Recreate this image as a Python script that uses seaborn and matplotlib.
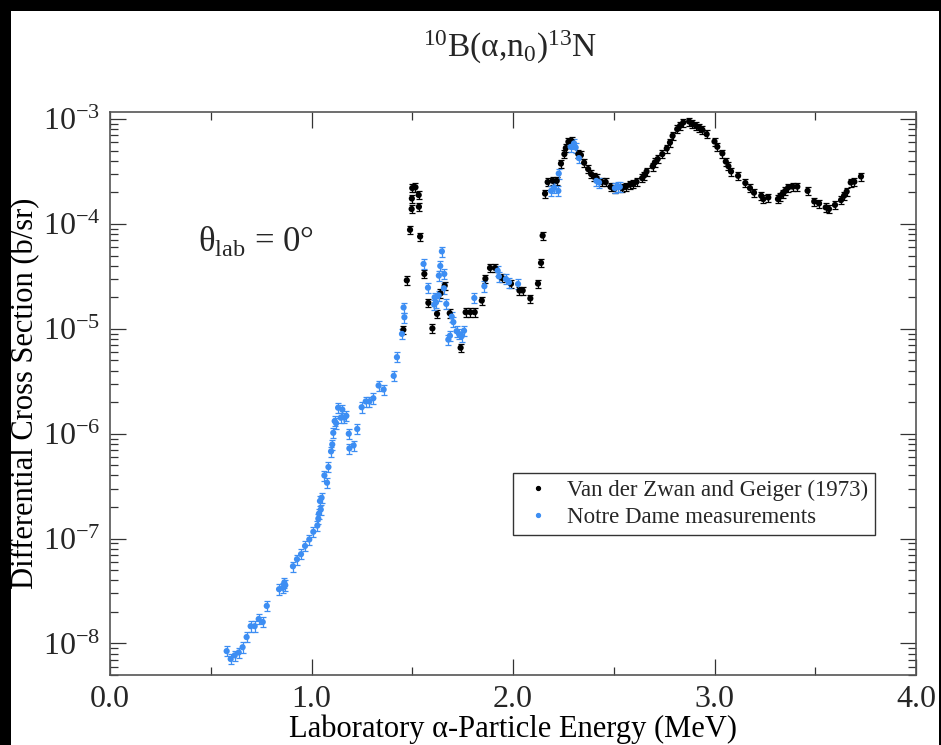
import numpy as np
import pandas as pd
import seaborn as sns
import matplotlib
matplotlib.use("Agg")
import matplotlib.pyplot as plt
from matplotlib.patches import Rectangle
from matplotlib.lines import Line2D
from matplotlib.ticker import LogLocator, MultipleLocator, FormatStrFormatter, NullFormatter, FixedLocator

# ---------------- data ----------------
vdz_energy = [1.456, 1.473, 1.489, 1.497, 1.498, 1.500, 1.516, 1.532, 1.533, 1.539,
              1.560, 1.580, 1.600, 1.623, 1.640, 1.661, 1.686, 1.740, 1.765, 1.788,
              1.810, 1.845, 1.863, 1.886, 1.911, 1.945, 1.990, 2.032, 2.048, 2.086,
              2.124, 2.139, 2.147, 2.159, 2.172, 2.197, 2.217, 2.238, 2.255, 2.262,
              2.275, 2.291, 2.324, 2.337, 2.353, 2.373, 2.388, 2.403, 2.415, 2.440,
              2.460, 2.484, 2.504, 2.542, 2.560, 2.580, 2.597, 2.613, 2.641, 2.651,
              2.663, 2.693, 2.704, 2.718, 2.741, 2.763, 2.779, 2.792, 2.815, 2.829,
              2.845, 2.874, 2.890, 2.908, 2.925, 2.940, 2.961, 3.000, 3.014, 3.039,
              3.056, 3.069, 3.082, 3.117, 3.153, 3.176, 3.196, 3.232, 3.242, 3.267,
              3.315, 3.325, 3.338, 3.351, 3.366, 3.388, 3.411, 3.462, 3.495, 3.519,
              3.552, 3.568, 3.598, 3.628, 3.643, 3.656, 3.676, 3.694, 3.727]
vdz_sigma = [9.8e-6, 2.9e-5, 8.8e-5, 1.39e-4, 1.75e-4, 2.2e-4, 2.24e-4, 1.89e-4, 1.46e-4, 7.6e-5,
             3.34e-5, 1.77e-5, 1.01e-5, 1.39e-5, 2.18e-5, 2.58e-5, 1.41e-5, 6.6e-6, 1.44e-5, 1.44e-5,
             1.44e-5, 1.86e-5, 3.01e-5, 3.81e-5, 3.81e-5, 3.06e-5, 2.69e-5, 2.32e-5, 2.32e-5, 1.95e-5,
             2.7e-5, 4.26e-5, 7.75e-5, 1.95e-4, 2.51e-4, 2.58e-4, 2.58e-4, 3.77e-4, 4.64e-4, 5.3e-4,
             6.08e-4, 6.17e-4, 4.64e-4, 4.54e-4, 3.84e-4, 3.34e-4, 2.99e-4, 2.82e-4, 2.74e-4, 2.51e-4,
             2.51e-4, 2.26e-4, 2.17e-4, 2.2e-4, 2.26e-4, 2.37e-4, 2.4e-4, 2.53e-4, 2.74e-4, 2.9e-4,
             3.17e-4, 3.54e-4, 3.87e-4, 4.16e-4, 4.64e-4, 5.25e-4, 5.98e-4, 6.93e-4, 8.03e-4, 8.64e-4,
             9.29e-4, 9.49e-4, 9.08e-4, 8.63e-4, 8.32e-4, 7.91e-4, 7.19e-4, 6.12e-4, 5.45e-4, 4.71e-4,
             3.94e-4, 3.56e-4, 3.17e-4, 2.88e-4, 2.46e-4, 2.2e-4, 1.99e-4, 1.86e-4, 1.73e-4, 1.79e-4,
             1.73e-4, 1.83e-4, 1.95e-4, 2.07e-4, 2.23e-4, 2.27e-4, 2.27e-4, 2.07e-4, 1.64e-4, 1.57e-4,
             1.44e-4, 1.39e-4, 1.52e-4, 1.69e-4, 1.86e-4, 2.04e-4, 2.49e-4, 2.53e-4, 2.84e-4]
vdz_rel_err = 0.09

nd_energy = [0.579, 0.599, 0.619, 0.639, 0.658, 0.678, 0.698, 0.718, 0.738, 0.758,
             0.778, 0.839, 0.857, 0.865, 0.870, 0.908, 0.928, 0.948, 0.968, 0.989,
             1.009, 1.029, 1.034, 1.037, 1.042, 1.046, 1.050, 1.064, 1.077, 1.084,
             1.097, 1.103, 1.108, 1.115, 1.122, 1.132, 1.145, 1.153, 1.163, 1.173,
             1.185, 1.188, 1.209, 1.227, 1.249, 1.269, 1.287, 1.307, 1.333, 1.358,
             1.408, 1.424, 1.449, 1.457, 1.461, 1.556, 1.578, 1.609, 1.611, 1.618,
             1.631, 1.632, 1.639, 1.647, 1.657, 1.659, 1.669, 1.679, 1.687, 1.696,
             1.704, 1.720, 1.732, 1.745, 1.757, 1.808, 1.858, 1.924, 1.930, 1.965,
             1.980, 2.025, 2.189, 2.204, 2.225, 2.227, 2.286, 2.303, 2.311, 2.327,
             2.414, 2.427, 2.506, 2.519, 2.530]
nd_sigma = [8.45e-9, 7.1e-9, 7.7e-9, 8.2e-9, 9.2e-9, 1.15e-8, 1.46e-8, 1.46e-8, 1.71e-8, 1.6e-8,
            2.28e-8, 3.29e-8, 3.39e-8, 3.81e-8, 3.59e-8, 5.44e-8, 6.35e-8, 7.1e-8, 8.5e-8, 9.8e-8,
            1.16e-7, 1.33e-7, 1.55e-7, 1.73e-7, 2.28e-7, 1.89e-7, 2.45e-7, 4.0e-7, 3.41e-7, 4.81e-7,
            6.78e-7, 7.9e-7, 1.02e-6, 1.32e-6, 1.26e-6, 1.77e-6, 1.42e-6, 1.70e-6, 1.42e-6, 1.48e-6,
            1.0e-6, 7.24e-7, 7.74e-7, 1.11e-6, 1.79e-6, 2.03e-6, 2.03e-6, 2.18e-6, 2.88e-6, 2.64e-6,
            3.56e-6, 5.37e-6, 8.95e-6, 1.6e-5, 1.29e-5, 4.16e-5, 2.47e-5, 1.70e-5, 2.0e-5, 1.79e-5,
            2.09e-5, 3.22e-5, 3.98e-5, 5.48e-5, 2.44e-5, 3.34e-5, 1.73e-5, 7.9e-6, 8.6e-6, 1.31e-5,
            1.16e-5, 9.5e-6, 8.95e-6, 8.5e-6, 9.6e-6, 1.97e-5, 2.55e-5, 3.59e-5, 3.16e-5, 2.99e-5,
            2.78e-5, 2.68e-5, 2.07e-4, 2.23e-4, 2.07e-4, 3.03e-4, 5.44e-4, 5.87e-4, 5.37e-4, 4.25e-4,
            2.58e-4, 2.49e-4, 2.2e-4, 2.26e-4, 2.26e-4]
nd_rel_err = 0.11

series_names = ["Van der Zwan and Geiger (1973)", "Notre Dame measurements"]
x_ticks = [0.0, 1.0, 2.0, 3.0, 4.0]

# ---------------- style ----------------
sns.set_theme(style="ticks")
plt.rcParams["font.family"] = ["Liberation Serif", "DejaVu Serif"]
plt.rcParams["mathtext.fontset"] = "custom"
plt.rcParams["mathtext.rm"] = "Liberation Serif"
plt.rcParams["mathtext.it"] = "Liberation Serif:italic"
plt.rcParams["mathtext.default"] = "regular"
plt.rcParams["axes.unicode_minus"] = False

BLACK = "#000000"
BLUE = "#3d8ef3"

df = pd.concat([
    pd.DataFrame({"E": vdz_energy, "sigma": vdz_sigma,
                  "err": np.array(vdz_sigma) * vdz_rel_err, "set": series_names[0]}),
    pd.DataFrame({"E": nd_energy, "sigma": nd_sigma,
                  "err": np.array(nd_sigma) * nd_rel_err, "set": series_names[1]}),
], ignore_index=True)

fig = plt.figure(figsize=(9.41, 7.45), dpi=100, facecolor="black")
fig.patches.append(Rectangle((11 / 941, 0), (939 - 11) / 941, 1 - 11 / 745,
                             transform=fig.transFigure, facecolor="white",
                             edgecolor="none", zorder=-10))
ax = fig.add_axes([110 / 941, 1 - 675 / 745, (916 - 110) / 941, (675 - 112) / 745])
ax.set_facecolor("white")

palette = {series_names[0]: BLACK, series_names[1]: BLUE}
for name in series_names:
    sub = df[df["set"] == name]
    ax.errorbar(sub["E"], sub["sigma"], yerr=sub["err"], fmt="none",
                ecolor=palette[name], elinewidth=0.9, capsize=2.2, capthick=0.9, zorder=2)
sns.scatterplot(data=df, x="E", y="sigma", hue="set", palette=palette,
                hue_order=series_names, s=20, linewidth=0, ax=ax, legend=False, zorder=3)

ax.set_yscale("log")
ax.set_xlim(0, 4)
ax.set_ylim(5.0e-9, 1.17e-3)

ax.xaxis.set_major_locator(FixedLocator(x_ticks))
ax.xaxis.set_major_formatter(FormatStrFormatter("%.1f"))
ax.xaxis.set_minor_locator(MultipleLocator(0.5))
ax.yaxis.set_major_locator(LogLocator(base=10, numticks=20))
ax.yaxis.set_minor_locator(LogLocator(base=10, subs=np.arange(2, 10), numticks=20))
ax.yaxis.set_minor_formatter(NullFormatter())

ax.tick_params(which="both", direction="in", top=True, right=True, color="#333333", width=0.9)
ax.tick_params(which="major", length=11.5, labelsize=23, pad=7)
ax.tick_params(which="minor", length=5.8)
for s in ax.spines.values():
    s.set_color("#555555")
    s.set_linewidth(1.2)

ax.set_xlabel("Laboratory \u03b1-Particle Energy (MeV)", fontsize=22, color="black")
ax.set_ylabel("Differential Cross Section (b/sr)", fontsize=22, color="black")
ax.xaxis.set_label_coords(0.5, -0.07)
ax.yaxis.set_label_coords(-0.087, 0.5)

ax.text(0.109, 0.751, "$\\theta_{lab}$ = 0\u00b0",
        transform=ax.transAxes, fontsize=25, ha="left", va="baseline")

fig.text(510 / 941, 1 - 57 / 745, r"$^{10}$B($\alpha$,n$_0$)$^{13}$N",
         fontsize=24, ha="center", va="baseline")

handles = [Line2D([], [], ls="none", marker="o", ms=2.8, mfc=BLACK, mec=BLACK),
           Line2D([], [], ls="none", marker="o", ms=2.8, mfc=BLUE, mec=BLUE)]
leg = ax.legend(handles, series_names, loc="upper left", bbox_to_anchor=(0.5, 0.359),
                borderaxespad=0, fontsize=16.5, frameon=True, fancybox=False,
                framealpha=1, edgecolor="#333333", handlelength=1.6, handletextpad=0.45,
                borderpad=0.3, labelspacing=0.25)
leg.get_frame().set_linewidth(1.0)

fig.savefig("out.png", dpi=100, facecolor=fig.get_facecolor())
